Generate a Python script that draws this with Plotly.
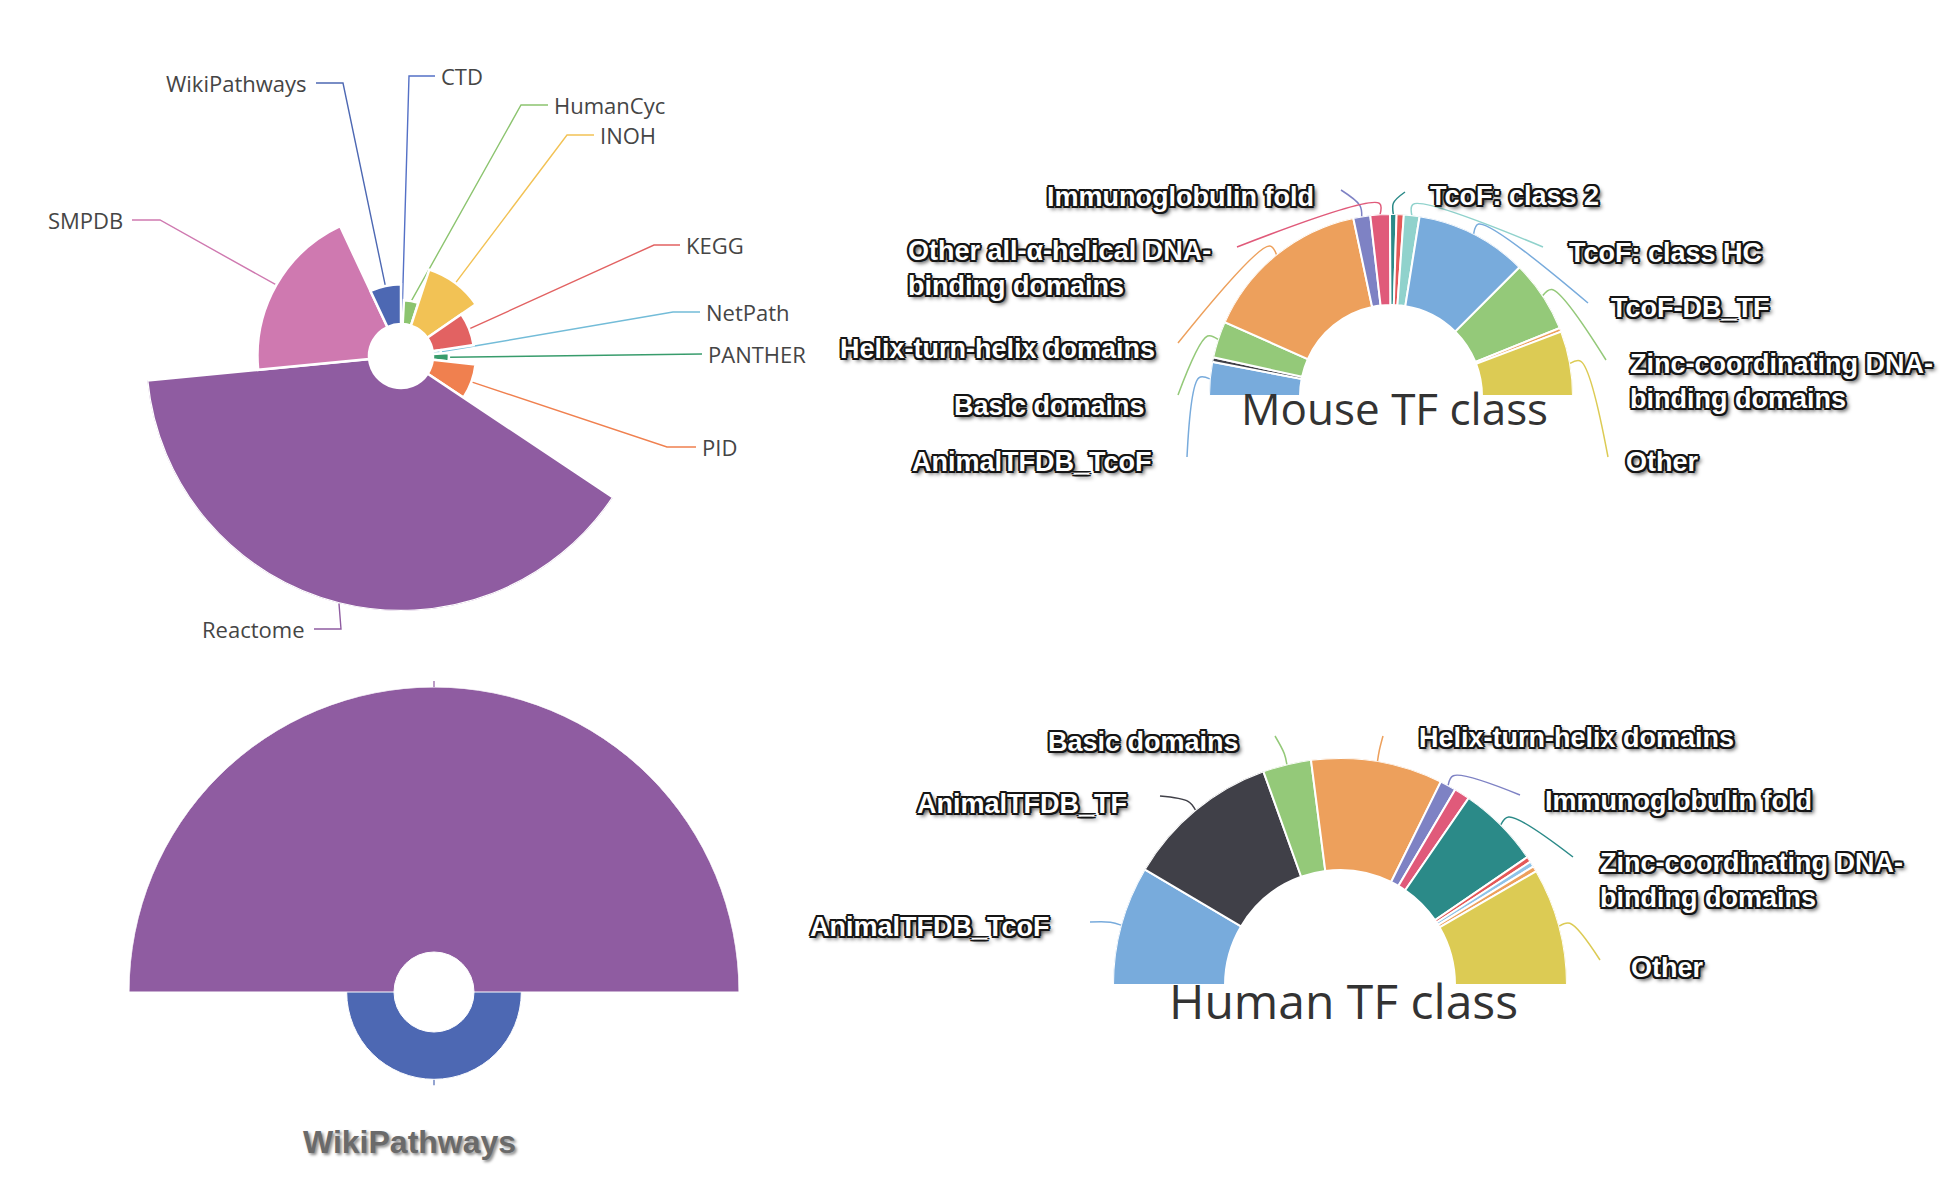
import math
import plotly.graph_objects as go

W, H = 1947, 1204

# ---------------- data ----------------
db_names = ["CTD", "HumanCyc", "INOH", "KEGG", "NetPath", "PANTHER", "PID",
            "Reactome", "SMPDB", "WikiPathways"]
db_values = [3, 15, 37, 26, 5, 10, 27, 140, 70, 25]
db_colors = ["#5470c6", "#8cc46f", "#f2c255", "#e26262", "#73bcd8", "#389c6c",
             "#f0804f", "#8f5ca1", "#cf79b0", "#4d68b3"]

pair_names = ["Reactome", "WikiPathways"]
pair_values = [140, 25]
pair_colors = ["#8f5ca1", "#4d68b3"]

BLUE, DARK, GREEN, ORANGE = "#78abdc", "#404048", "#94c979", "#eda05c"
PURPLE, PINK, TEAL, RED = "#7e82c4", "#e05a7a", "#2b8a88", "#e45858"
LTEAL, LBLUE, YELLOW = "#90d2cc", "#8fc3e8", "#dccb54"

mouse_names = ["AnimalTFDB_TcoF", "AnimalTFDB_TF", "Basic domains",
               "Helix-turn-helix domains", "Immunoglobulin fold",
               "Other all-α-helical DNA-binding domains", "TcoF: class 2",
               "TcoF: class 1", "TcoF: class HC", "TcoF-DB_TF",
               "Zinc-coordinating DNA-binding domains",
               "Yet undefined DNA-binding domains", "Other"]
mouse_values = [104, 14, 112, 520, 52, 60, 20, 22, 48, 345, 222, 12, 199]
mouse_colors = [BLUE, DARK, GREEN, ORANGE, PURPLE, PINK, TEAL, RED, LTEAL,
                BLUE, GREEN, ORANGE, YELLOW]

human_names = ["AnimalTFDB_TcoF", "AnimalTFDB_TF", "Basic domains",
               "Helix-turn-helix domains", "Immunoglobulin fold",
               "Other all-α-helical DNA-binding domains",
               "Zinc-coordinating DNA-binding domains", "TcoF: class 2",
               "TcoF: class HC", "TcoF-DB_TF", "Other"]
human_values = [304, 394, 123, 335, 41, 40, 210, 14, 14, 14, 299]
human_colors = [BLUE, DARK, GREEN, ORANGE, PURPLE, PINK, TEAL, RED, LBLUE,
                ORANGE, YELLOW]

# ---------------- layout constants ----------------
A_C, A_R, A_R0 = (401, 356), 255, 32          # top-left rose
B_C, B_R, B_R0, B_RLOW = (434, 992), 305, 40, 90  # bottom-left rose
M_C, M_R, M_R0 = (1391, 396), 182, 91         # mouse half donut
H_C, H_R, H_R0 = (1340, 985), 227, 115        # human half donut

# label layout: name -> (elbow, end, side)
db_label_layout = {
    "CTD": ((409, 76), (435, 76), "left"),
    "HumanCyc": ((521, 105), (548, 105), "left"),
    "INOH": ((567, 135), (594, 135), "left"),
    "KEGG": ((654, 245), (680, 245), "left"),
    "NetPath": ((673, 312), (700, 312), "left"),
    "PANTHER": ((676, 354), (702, 354), "left"),
    "PID": ((667, 447), (696, 447), "left"),
    "Reactome": ((341, 629), (314, 629), "right"),
    "SMPDB": ((160, 220), (132, 220), "right"),
    "WikiPathways": ((343, 83), (316, 83), "right"),
}
# name -> (line end, text x, text y, side)
mouse_label_layout = {
    "Immunoglobulin fold": ((1341, 190), 1316, 197, "right"),
    "Other all-α-helical DNA-binding domains": ((1237, 247), 1213, 268, "right"),
    "Helix-turn-helix domains": ((1178, 343), 1157, 349, "right"),
    "Basic domains": ((1178, 395), 1147, 406, "right"),
    "AnimalTFDB_TcoF": ((1187, 457), 1154, 462, "right"),
    "TcoF: class 2": ((1405, 192), 1428, 196, "left"),
    "TcoF: class HC": ((1543, 247), 1567, 253, "left"),
    "TcoF-DB_TF": ((1588, 303), 1609, 308, "left"),
    "Zinc-coordinating DNA-binding domains": ((1606, 360), 1628, 381, "left"),
    "Other": ((1608, 457), 1624, 462, "left"),
}
human_label_layout = {
    "Basic domains": ((1275, 736), 1241, 742, "right"),
    "Helix-turn-helix domains": ((1383, 736), 1417, 738, "left"),
    "AnimalTFDB_TF": ((1160, 796), 1129, 804, "right"),
    "Immunoglobulin fold": ((1520, 795), 1543, 801, "left"),
    "Zinc-coordinating DNA-binding domains": ((1573, 857), 1598, 880, "left"),
    "AnimalTFDB_TcoF": ((1090, 922), 1052, 927, "right"),
    "Other": ((1600, 960), 1629, 968, "left"),
}
label_breaks = {
    "Other all-α-helical DNA-binding domains": "Other all-α-helical DNA-<br>binding domains",
    "Zinc-coordinating DNA-binding domains": "Zinc-coordinating DNA-<br>binding domains",
}


def angular(values, span):
    total = float(sum(values))
    k = span / total
    thetas, widths, cum = [], [], 0.0
    for v in values:
        thetas.append((cum + v / 2.0) * k)
        widths.append(v * k)
        cum += v
    return thetas, widths


def px(c, r, a_deg):
    a = math.radians(a_deg)
    return c[0] + r * math.cos(a), c[1] - r * math.sin(a)


def dom_full(c, R):
    return dict(x=[(c[0] - R) / W, (c[0] + R) / W],
                y=[1 - (c[1] + R) / H, 1 - (c[1] - R) / H])


def dom_upper(c, R):
    return dict(x=[(c[0] - R) / W, (c[0] + R) / W],
                y=[1 - c[1] / H, 1 - (c[1] - R) / H])


def dom_lower(c, R):
    return dict(x=[(c[0] - R) / W, (c[0] + R) / W],
                y=[1 - (c[1] + R) / H, 1 - c[1] / H])


def polar_cfg(domain, R, rotation, sector=None):
    d = dict(domain=domain, bgcolor="rgba(0,0,0,0)",
             radialaxis=dict(visible=False, range=[0, R], showgrid=False),
             angularaxis=dict(visible=False, rotation=rotation,
                              direction="clockwise", showgrid=False))
    if sector is not None:
        d["sector"] = sector
    return d


fig = go.Figure()
annotations = []

LEFT_FONT = dict(family="Open Sans, Noto Sans, sans-serif", size=22, color="#454545")
OUT = "#151515"
OUTLINE = (f"-1.6px -1.6px 0 {OUT}, 1.6px -1.6px 0 {OUT}, -1.6px 1.6px 0 {OUT}, "
           f"1.6px 1.6px 0 {OUT}, 0 -2.2px 0 {OUT}, 0 2.2px 0 {OUT}, "
           f"-2.2px 0 0 {OUT}, 2.2px 0 0 {OUT}, 3px 3px 4px rgba(0,0,0,0.85)")
RIGHT_FONT = dict(family="Liberation Sans, Arial, sans-serif", size=27,
                  color="white", weight="bold", shadow=OUTLINE)

# ---------------- top-left rose (roseType radius) ----------------
th, wd = angular(db_values, 360)
vmax = max(db_values)
r_len = [(A_R - A_R0) * v / vmax for v in db_values]
fig.add_trace(go.Barpolar(
    theta=th, width=wd, r=r_len, base=[A_R0] * len(db_values),
    marker=dict(color=db_colors, line=dict(color="white", width=2.5)),
    text=db_names, hoverinfo="text", subplot="polar", showlegend=False))

for name, t, rl, col in zip(db_names, th, r_len, db_colors):
    elbow, end, side = db_label_layout[name]
    ax, ay = px(A_C, A_R0 + rl, 90 - t)
    fig.add_trace(go.Scatter(x=[ax, elbow[0], end[0]], y=[ay, elbow[1], end[1]],
                             mode="lines", line=dict(color=col, width=1.4),
                             hoverinfo="skip", showlegend=False))
    annotations.append(dict(
        x=end[0] + (4 if side == "left" else -7), y=end[1], xref="x", yref="y",
        text=name, showarrow=False, xanchor=side, yanchor="middle", font=LEFT_FONT))

# ---------------- bottom-left rose (roseType area) ----------------
n = len(pair_values)
pmax = max(pair_values)
p_theta = [(i + 0.5) * 360.0 / n for i in range(n)]
p_r = [(B_R - B_R0) * v / pmax for v in pair_values]
fig.add_trace(go.Barpolar(
    theta=[p_theta[0]], width=[360.0 / n], r=[p_r[0]], base=[B_R0],
    marker=dict(color=[pair_colors[0]], line=dict(color="white", width=1)),
    text=[pair_names[0]], hoverinfo="text", subplot="polar2", showlegend=False))
fig.add_trace(go.Barpolar(
    theta=[p_theta[1]], width=[360.0 / n], r=[p_r[1]], base=[B_R0],
    marker=dict(color=[pair_colors[1]], line=dict(color="white", width=1)),
    text=[pair_names[1]], hoverinfo="text", subplot="polar3", showlegend=False))
for t, rl, col in zip(p_theta, p_r, pair_colors):
    x0, y0 = px(B_C, B_R0 + rl, 180 - t)
    x1, y1 = px(B_C, B_R0 + rl + 6, 180 - t)
    fig.add_trace(go.Scatter(x=[x0, x1], y=[y0, y1], mode="lines",
                             line=dict(color=col, width=1.2),
                             hoverinfo="skip", showlegend=False))
annotations.append(dict(
    x=409, y=1142, xref="x", yref="y", text="<b>WikiPathways</b>", showarrow=False,
    xanchor="center", yanchor="middle",
    font=dict(family="Liberation Sans, Arial, sans-serif", size=32, color="#6a6a6a",
              shadow="2px 2px 3px rgba(0,0,0,0.45)")))


# ---------------- half donuts ----------------
def half_donut(values, names, colors, C, R, R0, subplot, label_layout, title, tsize, ty):
    th, wd = angular(values, 180)
    fig.add_trace(go.Barpolar(
        theta=th, width=wd, r=[R - R0] * len(values), base=[R0] * len(values),
        marker=dict(color=colors, line=dict(color="white", width=2)),
        text=names, hoverinfo="text", subplot=subplot, showlegend=False))
    for name, t, col in zip(names, th, colors):
        if name not in label_layout:
            continue
        end, tx, tyy, side = label_layout[name]
        a = 180 - t
        x0, y0 = px(C, R, a)
        x1, y1 = px(C, R + 11, a)
        fig.add_trace(go.Scatter(x=[x0, x1, end[0]], y=[y0, y1, end[1]],
                                 mode="lines", line=dict(color=col, width=1.5,
                                                         shape="spline", smoothing=1.0),
                                 hoverinfo="skip", showlegend=False))
        annotations.append(dict(
            x=tx, y=tyy, xref="x", yref="y", text=label_breaks.get(name, name),
            showarrow=False, xanchor=side, yanchor="middle", align="left",
            font=RIGHT_FONT))
    annotations.append(dict(
        x=C[0] + 3, y=ty, xref="x", yref="y", text=title, showarrow=False,
        xanchor="center", yanchor="middle",
        font=dict(family="Open Sans, Noto Sans, sans-serif", size=tsize, color="#333333")))


half_donut(mouse_values, mouse_names, mouse_colors, M_C, M_R, M_R0, "polar4",
           mouse_label_layout, "Mouse TF class", 44, 408)
half_donut(human_values, human_names, human_colors, H_C, H_R, H_R0, "polar5",
           human_label_layout, "Human TF class", 48, 1000)

fig.update_layout(
    width=W, height=H, margin=dict(l=0, r=0, t=0, b=0),
    paper_bgcolor="white", plot_bgcolor="rgba(0,0,0,0)", template="none",
    xaxis=dict(range=[0, W], domain=[0, 1], visible=False, fixedrange=True),
    yaxis=dict(range=[H, 0], domain=[0, 1], visible=False, fixedrange=True),
    polar=polar_cfg(dom_full(A_C, A_R), A_R, 90),
    polar2=polar_cfg(dom_upper(B_C, B_R), B_R, 180, [0, 180]),
    polar3=polar_cfg(dom_lower(B_C, B_RLOW), B_RLOW, 180, [180, 360]),
    polar4=polar_cfg(dom_upper(M_C, M_R), M_R, 180, [0, 180]),
    polar5=polar_cfg(dom_upper(H_C, H_R), H_R, 180, [0, 180]),
    annotations=annotations,
    showlegend=False,
)

fig.write_html("out.html", config={"displayModeBar": False},
               post_script="document.body.style.margin='0';")
